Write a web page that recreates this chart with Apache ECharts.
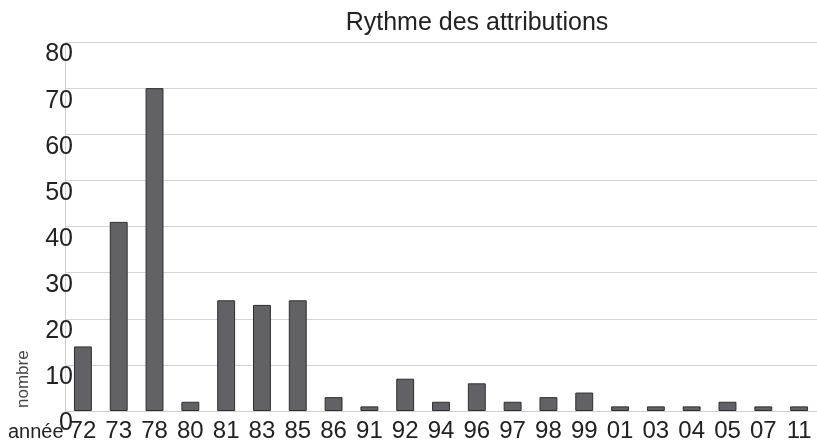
<!DOCTYPE html>
<html>
<head>
<meta charset="utf-8">
<script src="https://cdn.jsdelivr.net/npm/echarts@6/dist/echarts.min.js"></script>
<style>
	html, body { margin: 0; padding: 0; background: #fff; }
	#graficaAttributions { width: 817px; height: 446px; }
</style>
</head>
<body>
<div id="graficaAttributions"></div>
<script>
// Données
let annees = ['72', '73', '78', '80', '81', '83', '85', '86', '91', '92', '94', '96', '97', '98', '99', '01', '03', '04', '05', '07', '11'];
let nombres = [14, 41, 70, 2, 24, 23, 24, 3, 1, 7, 2, 6, 2, 3, 4, 1, 1, 1, 2, 1, 1];
let yMin = 0;
let yMax = 80;
let yPas = 10;

let police = 'Liberation Sans, Arial, sans-serif';

graficar(annees, nombres)

function graficar(annees, nombres) {
	var chart = echarts.init(document.getElementById('graficaAttributions'));

	var option = ({
		animation: false,
		textStyle: {
			fontFamily: police
		},

		// Titre
		title: {
			text: 'Rythme des attributions',
			left: 472,
			top: 6,
			textAlign: 'center',
			textStyle: {
				fontSize: 25,
				fontWeight: 'normal',
				fontFamily: police,
				color: '#222'
			}
		},

		grid: {
			left: 65,
			right: -4,
			top: 42,
			bottom: 35,
			containLabel: false
		},

		xAxis: [{
			type: 'category',
			data: annees,
			axisLabel: {
				color: '#222',
				fontSize: 24,
				fontFamily: police,
				margin: 8,
				interval: 0
			},
			axisLine: {
				lineStyle: { color: '#cfcfcf' }
			},
			axisTick: {
				alignWithLabel: true,
				length: 5,
				lineStyle: { color: '#d8d8d8' }
			}
		}],

		yAxis: [{
			type: 'value',
			min: yMin,
			max: yMax,
			interval: yPas,
			axisLabel: {
				color: '#222',
				fontSize: 25,
				fontFamily: police,
				margin: -8,
				verticalAlign: 'top'
			},
			axisLine: {
				show: true,
				lineStyle: { color: '#cfcfcf' }
			},
			axisTick: { show: false },
			splitLine: {
				lineStyle: { color: '#d4d4d4' }
			}
		}],

		// Noms des axes
		graphic: [
			{
				type: 'text',
				left: 8,
				top: 422,
				style: {
					text: 'année',
					fontSize: 20,
					fill: '#222',
					fontFamily: police
				}
			},
			{
				type: 'text',
				x: 32,
				y: 408,
				rotation: Math.PI / 2,
				style: {
					text: 'nombre',
					fontSize: 17,
					fill: '#444',
					align: 'left',
					verticalAlign: 'bottom',
					fontFamily: police
				}
			}
		],

		series: [
			{
				name: 'nombre',
				type: 'bar',
				data: nombres,
				barCategoryGap: '50%',
				itemStyle: {
					color: '#626266',
					borderColor: '#2e2e2e',
					borderWidth: 1
				}
			}
		]
	});

	chart.setOption(option)
}
</script>
</body>
</html>
